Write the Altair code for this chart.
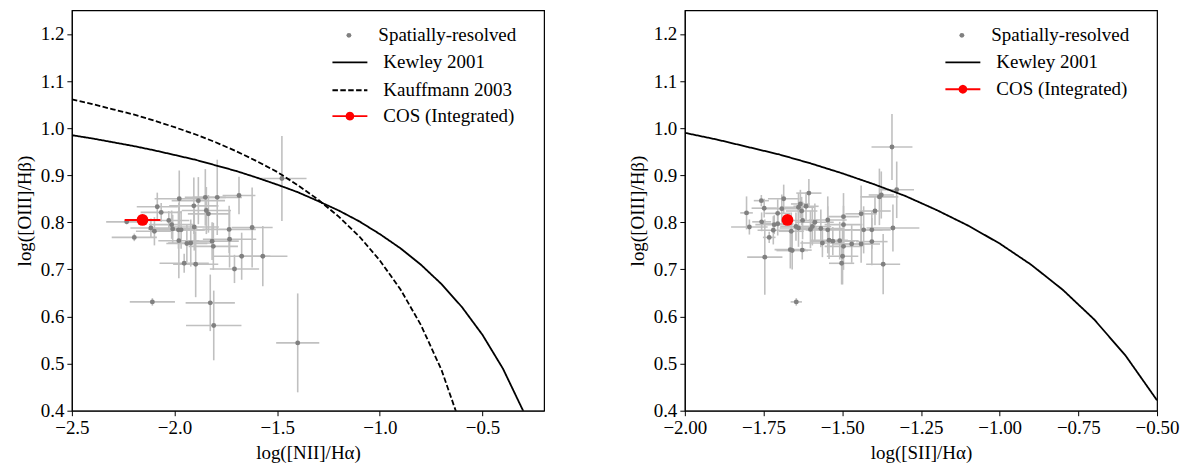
import altair as alt
import pandas as pd

# ---------------- data ----------------
# Left panel: [NII]/Halpha diagnostics (spatially-resolved spaxels)
nii_x = [-2.233, -2.196, -2.108, -2.084, -2.065, -2.115, -2.098, -2.028, -2.014, -2.009,
         -1.981, -1.968, -1.977, -1.979, -1.940, -1.921, -1.953, -1.897, -1.906, -1.884,
         -1.850, -1.792, -1.845, -1.835, -1.904, -1.817, -1.811, -1.826, -1.809, -1.734,
         -1.732, -1.708, -1.686, -1.673, -1.622, -1.570, -1.477, -1.400]
nii_y = [0.801, 0.768, 0.631, 0.833, 0.821, 0.788, 0.781, 0.804, 0.795, 0.786,
         0.784, 0.784, 0.850, 0.761, 0.755, 0.756, 0.713, 0.711, 0.835, 0.846,
         0.853, 0.853, 0.825, 0.818, 0.790, 0.760, 0.749, 0.629, 0.581, 0.785,
         0.764, 0.701, 0.857, 0.728, 0.789, 0.728, 0.893, 0.544]
nii_xerr = [0.10, 0.11, 0.11, 0.10, 0.10, 0.10, 0.09, 0.10, 0.11, 0.12,
            0.13, 0.11, 0.12, 0.10, 0.10, 0.11, 0.12, 0.11, 0.12, 0.13,
            0.10, 0.12, 0.12, 0.10, 0.12, 0.13, 0.12, 0.12, 0.135, 0.13,
            0.13, 0.12, 0.08, 0.14, 0.10, 0.12, 0.12, 0.105]
nii_yerr = [0.005, 0.008, 0.008, 0.03, 0.02, 0.02, 0.03, 0.02, 0.03, 0.03,
            0.04, 0.04, 0.06, 0.08, 0.04, 0.05, 0.02, 0.07, 0.06, 0.05,
            0.06, 0.08, 0.05, 0.04, 0.05, 0.04, 0.05, 0.06, 0.074, 0.05,
            0.06, 0.03, 0.04, 0.05, 0.085, 0.064, 0.09, 0.105]

# Right panel: [SII]/Halpha diagnostics
sii_x = [-1.804, -1.795, -1.757, -1.748, -1.756, -1.746, -1.732, -1.719, -1.716, -1.705,
         -1.705, -1.692, -1.686, -1.662, -1.665, -1.659, -1.646, -1.647, -1.639, -1.639,
         -1.629, -1.633, -1.626, -1.627, -1.615, -1.606, -1.601, -1.595, -1.587, -1.568,
         -1.563, -1.546, -1.546, -1.542, -1.530, -1.508, -1.496, -1.496, -1.496, -1.499,
         -1.502, -1.470, -1.440, -1.440, -1.432, -1.406, -1.406, -1.396, -1.382, -1.376,
         -1.370, -1.339, -1.342, -1.327]
sii_y = [0.820, 0.790, 0.846, 0.830, 0.801, 0.726, 0.768, 0.783, 0.795, 0.819,
         0.797, 0.829, 0.850, 0.781, 0.742, 0.740, 0.631, 0.791, 0.788, 0.832,
         0.824, 0.839, 0.804, 0.741, 0.834, 0.862, 0.785, 0.791, 0.800, 0.787,
         0.756, 0.805, 0.784, 0.762, 0.760, 0.761, 0.812, 0.795, 0.749, 0.728,
         0.713, 0.754, 0.818, 0.754, 0.784, 0.784, 0.759, 0.824, 0.854, 0.858,
         0.711, 0.788, 0.960, 0.869]
sii_xerr = [0.020, 0.058, 0.024, 0.040, 0.030, 0.056, 0.020, 0.050, 0.060, 0.040,
            0.050, 0.060, 0.050, 0.040, 0.050, 0.050, 0.018, 0.050, 0.060, 0.050,
            0.050, 0.030, 0.050, 0.030, 0.040, 0.040, 0.050, 0.060, 0.060, 0.070,
            0.070, 0.060, 0.070, 0.060, 0.070, 0.060, 0.050, 0.060, 0.060, 0.050,
            0.040, 0.060, 0.050, 0.060, 0.060, 0.060, 0.050, 0.050, 0.060, 0.040,
            0.054, 0.084, 0.065, 0.055]
sii_yerr = [0.035, 0.016, 0.012, 0.020, 0.020, 0.080, 0.012, 0.030, 0.020, 0.030,
            0.025, 0.030, 0.030, 0.040, 0.040, 0.040, 0.008, 0.030, 0.040, 0.030,
            0.030, 0.030, 0.040, 0.020, 0.030, 0.030, 0.040, 0.040, 0.040, 0.040,
            0.030, 0.050, 0.050, 0.040, 0.030, 0.040, 0.050, 0.040, 0.050, 0.060,
            0.045, 0.040, 0.060, 0.040, 0.050, 0.040, 0.050, 0.030, 0.060, 0.050,
            0.064, 0.050, 0.070, 0.060]

# COS integrated measurements
cos_nii = {"x": [-2.156], "y": [0.805], "xe": [0.087]}
cos_sii = {"x": [-1.674], "y": [0.805], "xe": [0.010]}

# Demarcation curves (points read along the drawn polylines)
kew_nii_x = [-2.5, -2.4, -2.3, -2.2, -2.1, -2.0, -1.9, -1.8, -1.7, -1.6, -1.5, -1.4,
             -1.3, -1.2, -1.1, -1.0, -0.9, -0.8, -0.7, -0.6, -0.5, -0.4, -0.3, -0.2]
kew_nii_y = [0.985, 0.978, 0.970, 0.962, 0.953, 0.943, 0.933, 0.921, 0.909, 0.895,
             0.880, 0.864, 0.845, 0.825, 0.802, 0.775, 0.745, 0.710, 0.669, 0.620,
             0.561, 0.489, 0.398, 0.280]
kau_x = [-2.5, -2.4, -2.3, -2.2, -2.1, -2.0, -1.9, -1.8, -1.7, -1.6, -1.5, -1.4,
         -1.3, -1.2, -1.1, -1.0, -0.9, -0.8, -0.7, -0.6]
kau_y = [1.061, 1.051, 1.040, 1.029, 1.016, 1.002, 0.987, 0.970, 0.951, 0.930,
         0.907, 0.879, 0.848, 0.812, 0.770, 0.719, 0.658, 0.582, 0.487, 0.362]
kew_sii_x = [-2.0, -1.9, -1.8, -1.7, -1.6, -1.5, -1.4, -1.3, -1.2, -1.1, -1.0,
             -0.9, -0.8, -0.7, -0.6, -0.5]
kew_sii_y = [0.990, 0.976, 0.960, 0.944, 0.925, 0.904, 0.881, 0.856, 0.826, 0.793,
             0.755, 0.710, 0.657, 0.594, 0.517, 0.422]

y_ticks = [0.4, 0.5, 0.6, 0.7, 0.8, 0.9, 1.0, 1.1, 1.2]
nii_ticks = [-2.5, -2.0, -1.5, -1.0, -0.5]
sii_ticks = [-2.0, -1.75, -1.5, -1.25, -1.0, -0.75, -0.5]

FONT = "Liberation Serif"
FS = 19
# legend glyph: horizontal line with a small filled dot (12-gon, no arcs)
COS_PATH = ("M-1,0L-0.2,0"
            "L-0.173,0.1L-0.1,0.173L0,0.2L0.1,0.173L0.173,0.1L0.2,0"
            "L1,0L0.2,0"
            "L0.173,-0.1L0.1,-0.173L0,-0.2L-0.1,-0.173L-0.173,-0.1L-0.2,0Z")


def panel(px, py, pxe, pye, cos, curves, xdom, xticks, xfmt, xtitle, dash_dom, dash_rng, cos_legend_y):
    X = alt.Scale(domain=xdom, nice=False, zero=False)
    Y = alt.Scale(domain=[0.4, 1.25], nice=False, zero=False)
    xax = alt.Axis(values=xticks, format=xfmt, title=xtitle, labelFlush=False, labelOverlap=False)
    yax = alt.Axis(values=y_ticks, format=".1f", title="log([OIII]/Hβ)", labelFlush=False, labelOverlap=False)

    df = pd.DataFrame({"x": px, "y": py, "xe": pxe, "ye": pye})
    df["lab"] = "Spatially-resolved"
    base = alt.Chart(df).transform_calculate(
        xlo="datum.x - datum.xe", xhi="datum.x + datum.xe",
        ylo="datum.y - datum.ye", yhi="datum.y + datum.ye")

    eh = base.mark_rule(color="#c0c0c0", strokeWidth=1.6).encode(
        x=alt.X("xlo:Q", scale=X, axis=xax), x2="xhi:Q",
        y=alt.Y("y:Q", scale=Y, axis=yax))
    ev = base.mark_rule(color="#c0c0c0", strokeWidth=1.6).encode(
        x=alt.X("x:Q", scale=X, axis=xax),
        y=alt.Y("ylo:Q", scale=Y, axis=yax), y2="yhi:Q")
    pts = base.mark_circle(size=24, opacity=1).encode(
        x=alt.X("x:Q", scale=X, axis=xax),
        y=alt.Y("y:Q", scale=Y, axis=yax),
        color=alt.Color("lab:N",
                        scale=alt.Scale(domain=["Spatially-resolved"], range=["#808080"]),
                        legend=alt.Legend(title=None, orient="none", legendX=268, legendY=15.5,
                                          symbolType="circle", symbolSize=24, symbolStrokeWidth=0,
                                          labelOffset=20, clipHeight=19, padding=0,
                                          symbolOpacity=1)))

    cdf = pd.concat([pd.DataFrame({"x": cx, "y": cy, "lab": name}) for name, cx, cy in curves],
                    ignore_index=True)
    lines = alt.Chart(cdf).mark_line(color="black", strokeWidth=1.8, clip=True).encode(
        x=alt.X("x:Q", scale=X, axis=xax),
        y=alt.Y("y:Q", scale=Y, axis=yax),
        strokeDash=alt.StrokeDash("lab:N",
                                  scale=alt.Scale(domain=dash_dom, range=dash_rng),
                                  legend=alt.Legend(title=None, orient="none", legendX=260, legendY=42.5,
                                                    symbolType="stroke", symbolSize=1225,
                                                    symbolStrokeColor="black", symbolStrokeWidth=1.8,
                                                    labelOffset=15, clipHeight=19, rowPadding=8,
                                                    padding=0)))

    cdf2 = pd.DataFrame(cos)
    cdf2["lab"] = "COS (Integrated)"
    cbase = alt.Chart(cdf2).transform_calculate(xlo="datum.x - datum.xe", xhi="datum.x + datum.xe")
    cerr = cbase.mark_rule(color="red", strokeWidth=2).encode(
        x=alt.X("xlo:Q", scale=X, axis=xax), x2="xhi:Q",
        y=alt.Y("y:Q", scale=Y, axis=yax))
    cpt = cbase.mark_circle(size=140, opacity=1).encode(
        x=alt.X("x:Q", scale=X, axis=xax),
        y=alt.Y("y:Q", scale=Y, axis=yax),
        fill=alt.Fill("lab:N",
                      scale=alt.Scale(domain=["COS (Integrated)"], range=["red"]),
                      legend=alt.Legend(title=None, orient="none", legendX=260, legendY=cos_legend_y,
                                        symbolType=COS_PATH, symbolSize=1225,
                                        symbolStrokeColor="red", symbolStrokeWidth=1.8,
                                        labelOffset=15, clipHeight=19, padding=0,
                                        symbolOpacity=1)))

    return alt.layer(eh, ev, pts, lines, cerr, cpt).resolve_scale(
        color="independent", strokeDash="independent", fill="independent"
    ).properties(width=473, height=401)


left = panel(nii_x, nii_y, nii_xerr, nii_yerr, cos_nii,
             [("Kewley 2001", kew_nii_x, kew_nii_y), ("Kauffmann 2003", kau_x, kau_y)],
             [-2.5, -0.2], nii_ticks, ".1f", "log([NII]/Hα)",
             ["Kewley 2001", "Kauffmann 2003"], [[1, 0], [5.5, 2.4]], 96.5)
right = panel(sii_x, sii_y, sii_xerr, sii_yerr, cos_sii,
              [("Kewley 2001", kew_sii_x, kew_sii_y)],
              [-2.0, -0.5], sii_ticks, ".2f", "log([SII]/Hα)",
              ["Kewley 2001"], [[1, 0]], 69.5)

chart = alt.hconcat(left, right, spacing=82).properties(
    padding={"left": 14, "top": 9, "right": 5, "bottom": 0}
).configure_axis(
    labelFont=FONT, titleFont=FONT, labelFontSize=FS, titleFontSize=FS,
    titleFontWeight="normal", labelColor="black", titleColor="black",
    domainColor="black", tickColor="black", tickSize=5, grid=False,
    labelPadding=3, titlePadding=6
).configure_legend(
    labelFont=FONT, labelFontSize=FS, labelColor="black"
).configure_view(stroke="black", strokeWidth=1.2)

chart.save("out.html", embed_options={"renderer": "svg", "actions": False})
